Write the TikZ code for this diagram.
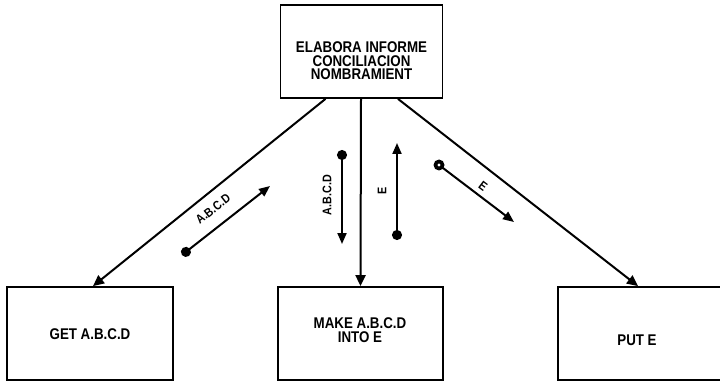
\documentclass[tikz,border=0pt]{standalone}
\usepackage{fontspec}
\setmainfont{Liberation Sans}[FakeStretch=0.86]
\usetikzlibrary{arrows.meta,calc}
\begin{document}
\begin{tikzpicture}[x=1pt,y=-1pt,
  box/.style={draw,line width=1.8pt,inner sep=0pt},
  lbl/.style={font=\fontsize{15.5}{13.5}\selectfont\bfseries,align=center,inner sep=0pt},
  small/.style={font=\fontsize{12.5}{12}\selectfont\bfseries,inner sep=0pt},
  conn/.style={line width=2pt,-{Triangle[length=11pt,width=10pt]}},
  flow/.style={line width=2pt,{Circle[length=10pt]}-{Triangle[length=11pt,width=9pt]}}]
\useasboundingbox (0,0) rectangle (720,382);
% boxes
\node[box,minimum width=162pt,minimum height=93pt] (top) at (361.5,51.5) {};
\node[lbl] (toptxt) at (361.5,61) {ELABORA INFORME\\CONCILIACION\\NOMBRAMIENT};
\node[box,minimum width=166pt,minimum height=93pt] (get) at (90,333.5) {};
\node[lbl] (gettxt) at (90,334) {GET A.B.C.D};
\node[box,minimum width=165pt,minimum height=93pt] (make) at (360.5,333.5) {};
\node[lbl] (maketxt) at (360,330) {MAKE A.B.C.D\\INTO E};
\node[box,minimum width=170pt,minimum height=93pt] (put) at (643,333.5) {};
\node[lbl] (puttxt) at (637,340) {PUT E};
% connectors
\draw[conn] ($(top.south)+(-36,0)$) -- ($(get.north)+(3,0)$);
\draw[conn] ($(top.south)+(-0.5,0)$) -- (make.north);
\draw[conn] ($(top.south)+(36.5,0)$) -- ($(put.north)+(-5,0)$);
% data flows
\coordinate (f1a) at (182,255); \coordinate (f1b) at (270,186);
\draw[flow] (f1a) -- (f1b);
\node[small,rotate=38] (l1) at (213,209) {A.B.C.D};
\coordinate (f2a) at (342,150); \coordinate (f2b) at (342,244);
\draw[flow] (f2a) -- (f2b);
\node[small,rotate=90] (l2) at (327,195) {A.B.C.D};
\coordinate (f3a) at (397,240); \coordinate (f3b) at (397,143);
\draw[flow] (f3a) -- (f3b);
\node[small,rotate=90] (l3) at (382,191) {E};
\coordinate (f4a) at (439,165); \coordinate (f4b) at (514,222);
\draw[line width=2pt,-{Triangle[length=11pt,width=9pt]}] (f4a) -- (f4b);
\fill (f4a) circle (5.5pt);
\fill[white] (f4a) circle (1.6pt);
\node[small,rotate=-37] (l4) at (483,186) {E};
\end{tikzpicture}
\end{document}
